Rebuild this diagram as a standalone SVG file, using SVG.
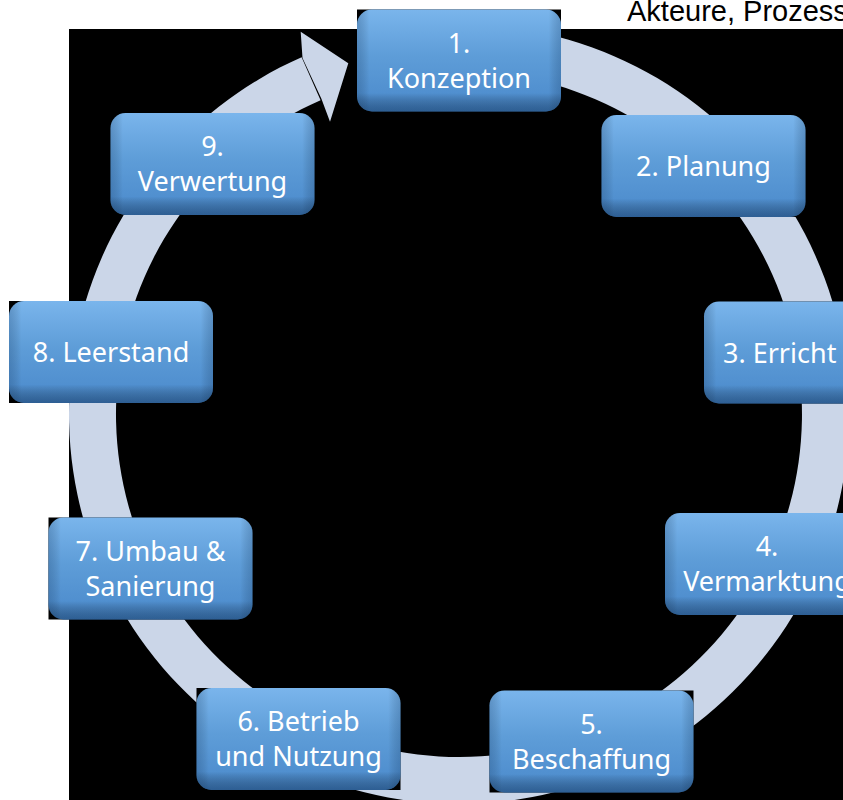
<svg xmlns="http://www.w3.org/2000/svg" width="843" height="800" viewBox="0 0 843 800">
<defs>
<linearGradient id="g" x1="0" y1="0" x2="0" y2="1">
<stop offset="0" stop-color="#7AB5EC"/>
<stop offset="0.45" stop-color="#5E9DD8"/>
<stop offset="1" stop-color="#4A89CB"/>
</linearGradient>
<linearGradient id="sh" x1="0" y1="0" x2="0" y2="1">
<stop offset="0" stop-color="#000" stop-opacity="0"/>
<stop offset="0.82" stop-color="#000" stop-opacity="0"/>
<stop offset="1" stop-color="#0A2A50" stop-opacity="0.45"/>
</linearGradient>
<linearGradient id="shx" x1="0" y1="0" x2="1" y2="0">
<stop offset="0" stop-color="#0A2A50" stop-opacity="0.22"/>
<stop offset="0.06" stop-color="#000" stop-opacity="0"/>
<stop offset="0.94" stop-color="#000" stop-opacity="0"/>
<stop offset="1" stop-color="#0A2A50" stop-opacity="0.22"/>
</linearGradient>
<g id="box">
<rect x="0" y="0" width="204" height="102" fill="#000"/>
<rect x="0" y="0" width="204" height="102" rx="15" fill="url(#g)"/>
<rect x="0" y="0" width="204" height="102" rx="15" fill="url(#sh)"/>
<rect x="0" y="0" width="204" height="102" rx="15" fill="url(#shx)"/>
</g>
</defs>
<style>
.t{font-family:"Noto Sans","Open Sans","DejaVu Sans",sans-serif;font-size:27px;fill:#fff;text-anchor:middle}
.title{font-family:"Liberation Sans",Arial,sans-serif;font-size:29px;fill:#000}
</style>
<rect width="843" height="800" fill="#fff"/>
<rect x="69" y="29" width="774" height="771" fill="#000"/>
<text class="title" x="627" y="21">Akteure, Prozess</text>
<g id="connectors">
<path d="M 425.01 25.49 A 390 390 0 1 1 301.62 57.17 L 320.58 100.17 A 343 343 0 1 0 429.10 72.31 Z" fill="#CBD6E8"/>
<polygon points="302.5,58 300.7,31.7 348.3,63.3 330,121.7 321.5,99" fill="#CBD6E8"/>
</g>
<g id="node1" transform="translate(357,9.5)"><use href="#box"/><text class="t" x="102" y="43">1.</text><text class="t" x="102" y="78">Konzeption</text></g>
<g id="node2" transform="translate(601.5,115)"><use href="#box"/><text class="t" x="102" y="61">2. Planung</text></g>
<g id="node3" transform="translate(704,301.5)"><use href="#box"/><text class="t" x="19" y="61" style="text-anchor:start">3. Erricht</text></g>
<g id="node4" transform="translate(665,513)"><use href="#box"/><text class="t" x="102" y="43">4.</text><text class="t" x="102" y="78">Vermarktung</text></g>
<g id="node5" transform="translate(489.5,690.5)"><use href="#box"/><text class="t" x="102" y="43">5.</text><text class="t" x="102" y="78">Beschaffung</text></g>
<g id="node6" transform="translate(196.5,688)"><use href="#box"/><text class="t" x="102" y="43">6. Betrieb</text><text class="t" x="102" y="78">und Nutzung</text></g>
<g id="node7" transform="translate(48.5,517.5)"><use href="#box"/><text class="t" x="102" y="43">7. Umbau &amp;</text><text class="t" x="102" y="78">Sanierung</text></g>
<g id="node8" transform="translate(9,301)"><use href="#box"/><text class="t" x="102" y="61">8. Leerstand</text></g>
<g id="node9" transform="translate(110.5,113)"><use href="#box"/><text class="t" x="102" y="43">9.</text><text class="t" x="102" y="78">Verwertung</text></g>
</svg>
